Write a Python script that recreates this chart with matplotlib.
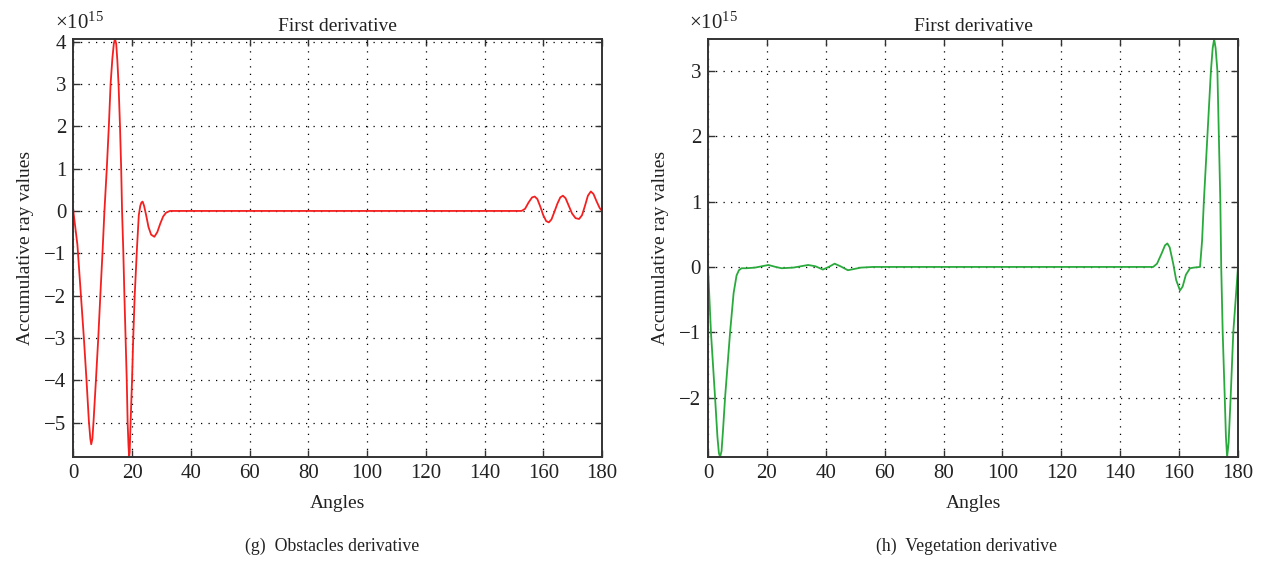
import matplotlib
matplotlib.use("Agg")
import matplotlib.pyplot as plt

plt.rcParams['font.family'] = ['Liberation Serif', 'DejaVu Serif']
plt.rcParams['mathtext.fontset'] = 'custom'
plt.rcParams['mathtext.rm'] = 'Liberation Serif'
plt.rcParams['mathtext.it'] = 'Liberation Serif:italic'

# ---- Data (values in units of 1e15) ----
obst_x = [0, 1.4, 2.6, 3.6, 4.5, 5.3, 5.8, 6.1, 6.5, 6.9, 7.7, 8.5, 9.2, 10.0, 10.6,
          11.4, 12.1, 12.7, 13.3, 13.8, 14.2, 14.6, 15.0, 15.4, 15.9, 16.3, 16.6,
          17.0, 17.4, 17.8, 18.2, 18.5, 18.8, 19.0, 19.2, 19.5, 20.0, 20.4, 20.9,
          21.7, 22.3, 22.8, 23.2, 23.6, 24.1, 24.8, 25.6, 26.5, 27.6, 28.6, 29.6,
          30.6, 31.6, 32.9, 150, 152.6, 153.8, 155.0, 156.2, 157.1, 158.0, 159.0,
          160.0, 161.0, 161.9, 162.8, 163.8, 164.8, 165.8, 166.7, 167.6, 168.7,
          169.8, 171.0, 172.2, 173.2, 174.2, 175.2, 176.2, 177.1, 178.2, 179.2, 180]
obst_y = [0, -0.8, -2.0, -3.0, -4.0, -4.96, -5.38, -5.51, -5.38, -4.96, -4.0, -3.0, -2.0, -0.9, 0,
          1.0, 2.0, 3.0, 3.6, 3.95, 4.06, 3.95, 3.55, 3.0, 2.0, 1.0, 0,
          -0.9, -2.0, -3.0, -4.0, -5.0, -5.55, -5.81, -5.7, -5.0, -4.0, -3.0, -2.0,
          -0.85, -0.1, 0.12, 0.2, 0.22, 0.12, -0.1, -0.38, -0.56, -0.61, -0.5, -0.3,
          -0.13, -0.04, 0, 0, 0, 0.05, 0.2, 0.32, 0.34, 0.28, 0.1,
          -0.1, -0.24, -0.27, -0.2, -0.02, 0.17, 0.32, 0.36, 0.3, 0.12,
          -0.06, -0.17, -0.19, -0.1, 0.12, 0.36, 0.46, 0.4, 0.22, 0.07, 0]

veg_x = [0, 1.0, 2.4, 3.2, 3.7, 4.1, 4.6, 5.1, 5.8, 7.5, 8.7, 9.7, 10.5, 11.4, 13,
         16, 20.5, 23, 25, 29, 34, 36.5, 39, 41, 43, 45, 47.5, 52, 56,
         150, 151.2, 152.5, 154.0, 155.2, 156.0, 156.8, 158.0, 159.0, 160.3, 161.2,
         162.3, 163.7, 165.0, 167.1, 167.8, 168.4, 169.6, 170.8, 171.4, 171.9,
         172.4, 173.0, 173.5, 174.0, 174.3, 174.8, 175.5, 175.9, 176.3, 176.8,
         177.5, 178.4, 180]
veg_y = [0, -1.0, -2.0, -2.6, -2.85, -2.91, -2.82, -2.5, -2.0, -1.0, -0.4, -0.13, -0.05, -0.02, -0.02,
         -0.01, 0.03, 0.0, -0.02, -0.01, 0.03, 0.01, -0.04, 0.0, 0.05, 0.01, -0.05, -0.01, 0,
         0, 0.0, 0.05, 0.2, 0.33, 0.36, 0.3, 0.05, -0.2, -0.36, -0.3,
         -0.12, -0.02, -0.01, 0.0, 0.4, 1.0, 2.0, 3.0, 3.35, 3.49,
         3.35, 3.0, 2.0, 1.0, 0, -1.0, -2.0, -2.6, -2.91, -2.7,
         -2.0, -1.0, 0]

x_ticks = [0, 20, 40, 60, 80, 100, 120, 140, 160, 180]
obst_yticks = [-5, -4, -3, -2, -1, 0, 1, 2, 3, 4]
veg_yticks = [-2, -1, 0, 1, 2, 3]

W, H = 1263, 563
fig = plt.figure(figsize=(W / 100, H / 100), dpi=100)

FS_TICK = 15
FS_LAB = 14
FS_CAP = 12.8
edge = '#333333'
tc = '#222222'

def make_ax(left_px, right_px, top_px, bottom_px):
    return fig.add_axes([left_px / W, 1 - bottom_px / H,
                         (right_px - left_px) / W, (bottom_px - top_px) / H])

def style(ax, x, y, color, yticks, ylim, caption, cx):
    ax.plot(x, y, color=color, lw=1.3)
    ax.set_xlim(0, 180)
    ax.set_ylim(*ylim)
    ax.set_xticks(x_ticks)
    ax.set_yticks(yticks)
    ax.grid(True, color='black', linestyle=(0, (1, 5)), linewidth=0.9)
    ax.tick_params(direction='in', top=True, right=True, length=5, width=1.0,
                   color=edge, labelsize=FS_TICK, labelcolor=tc, pad=5)
    for s in ax.spines.values():
        s.set_color(edge)
        s.set_linewidth(1.4)
    ax.set_title('First derivative', fontsize=FS_LAB, pad=6, color=tc)
    ax.set_xlabel('Angles', fontsize=FS_LAB, labelpad=9, color=tc)
    ax.set_ylabel('Accumulative ray values', fontsize=FS_LAB, labelpad=7, color=tc)
    ax.text(-0.035, 1.012, r'$\mathregular{\times10^{15}}$', transform=ax.transAxes,
            fontsize=FS_TICK, ha='left', va='bottom', color=tc)
    fig.text(cx / W, 1 - 546 / H, caption, fontsize=FS_CAP, ha='center', va='center',
             color=tc)

ax1 = make_ax(73.3, 602, 39, 457)
style(ax1, obst_x, obst_y, '#f42020', obst_yticks, (-5.81, 4.06),
      '(g)  Obstacles derivative', 332)

ax2 = make_ax(708, 1238, 39, 457)
style(ax2, veg_x, veg_y, '#2aaa3c', veg_yticks, (-2.91, 3.49),
      '(h)  Vegetation derivative', 967)

fig.savefig('out.png', dpi=100)
